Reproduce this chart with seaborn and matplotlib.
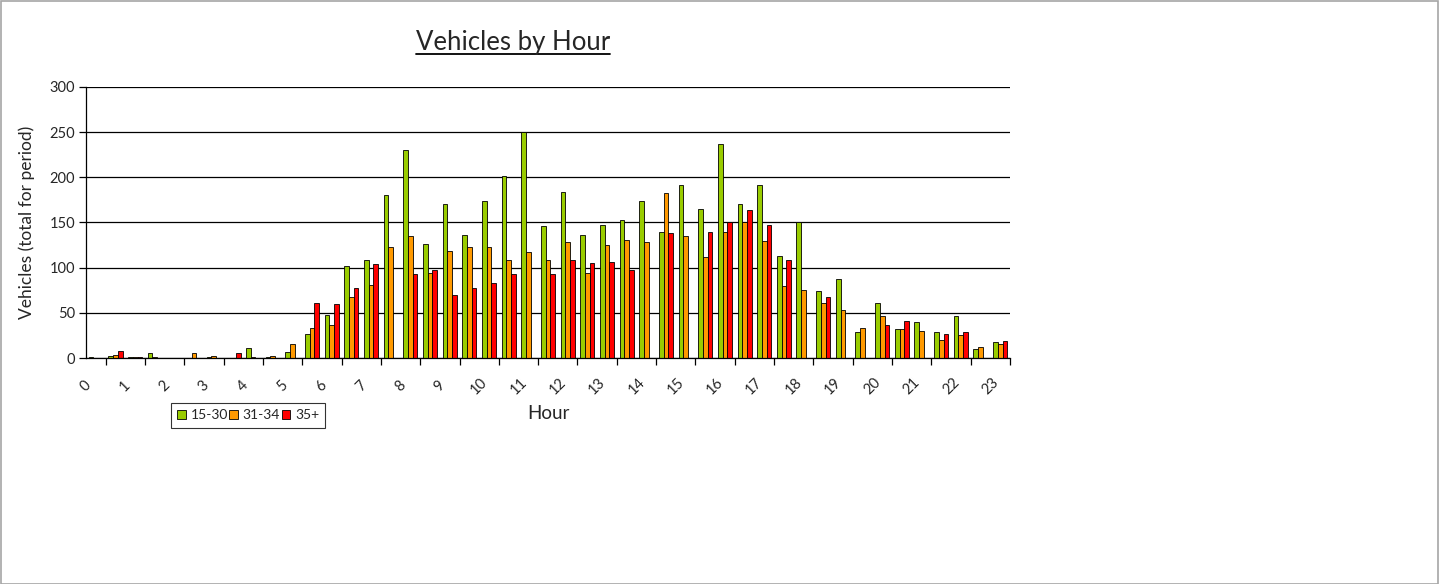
import matplotlib
matplotlib.use("Agg")
import matplotlib.pyplot as plt
import seaborn as sns
import pandas as pd
from matplotlib.lines import Line2D
from matplotlib.patches import Rectangle

# ---- data (47 half-hour slots, labelled every hour) ----
slots = [f"{h}:{m:02d}" for h in range(24) for m in (0, 30)][:47]
hour_labels = [str(h) for h in range(24)]
series_names = ["15-30", "31-34", "35+"]

v_15_30 = [1, 2, 1, 5, 0, 0, 1, 0, 11, 1, 7, 27, 48, 102, 109, 180,
           230, 126, 171, 136, 174, 202, 250, 146, 184, 136, 147, 153, 174, 140,
           191, 165, 237, 171, 192, 113, 150, 74, 88, 29, 61, 32, 40, 29, 47, 10, 18]
v_31_34 = [0, 3, 1, 1, 0, 5, 2, 0, 1, 2, 15, 33, 36, 67, 81, 123,
           135, 94, 118, 123, 123, 109, 117, 108, 128, 94, 125, 131, 128, 183,
           135, 112, 139, 150, 130, 80, 75, 61, 53, 33, 47, 32, 30, 20, 26, 12, 15]
v_35p = [0, 8, 1, 0, 0, 0, 0, 5, 0, 0, 0, 61, 60, 78, 104, 0,
         93, 97, 70, 78, 83, 93, 0, 93, 108, 105, 106, 97, 0, 138,
         0, 139, 150, 164, 147, 109, 0, 68, 0, 0, 37, 41, 0, 27, 29, 0, 19]

colors = ["#99CC00", "#FF9900", "#FF0000"]

df = pd.DataFrame({
    "slot": slots * 3,
    "series": sum([[s] * len(slots) for s in series_names], []),
    "value": v_15_30 + v_31_34 + v_35p,
})

sns.set_style("white")
plt.rcParams["font.family"] = ["Lato", "DejaVu Sans"]

W, H = 1439, 584
fig = plt.figure(figsize=(W / 100, H / 100), dpi=100)
ax = fig.add_axes([86 / W, 1 - 358 / H, (1010 - 86) / W, (358 - 87) / H])

sns.barplot(data=df, x="slot", y="value", hue="series", order=slots,
            hue_order=series_names, palette=colors, saturation=1, width=0.72,
            edgecolor="black", linewidth=0.6, ax=ax, legend=True)

ax.set_ylim(0, 300)
ax.set_xlim(-0.5, len(slots) - 0.5)
ax.set_yticks(range(0, 301, 50))
ax.yaxis.grid(True, color="black", linewidth=0.9)
ax.set_axisbelow(True)
for s in ["top", "right"]:
    ax.spines[s].set_visible(False)
for s in ["left", "bottom"]:
    ax.spines[s].set_color("black")
    ax.spines[s].set_linewidth(0.9)

ax.tick_params(axis="y", which="major", direction="out", length=5, width=0.9,
               color="black", labelsize=10.5, pad=3, left=True)
ax.set_xticks([i - 0.5 for i in range(0, len(slots), 2)])
ax.set_xticklabels(hour_labels, rotation=45, ha="center", va="center")
ax.set_xticks([i - 0.5 for i in range(len(slots) + 1)], minor=True)
ax.tick_params(axis="x", which="major", length=0, labelsize=10.5, pad=20)
ax.tick_params(axis="x", which="minor", direction="out", length=5, width=0.9,
               color="black", bottom=True)

ax.set_xlabel("Hour", fontsize=13.5)
ax.xaxis.set_label_coords(0.5, (358 - 405) / 271)
ax.set_ylabel("Vehicles (total for period)", fontsize=12.5, labelpad=10)

handles, labels = ax.get_legend_handles_labels()
ax.legend(handles, labels, ncol=3, loc="upper left",
          bbox_to_anchor=(171 / W, 1 - 403 / H), bbox_transform=fig.transFigure,
          frameon=True, fancybox=False, edgecolor="black", fontsize=10,
          handlelength=0.6, handleheight=0.6, handletextpad=0.35,
          columnspacing=0.12, borderpad=0.45, borderaxespad=0)
leg = ax.get_legend()
leg.get_frame().set_linewidth(0.8)

title = fig.text(513 / W, 1 - 50 / H, "Vehicles by Hour", ha="center",
                 va="baseline", fontsize=18.5)

# underline title
fig.canvas.draw()
bb = title.get_window_extent()
uy = 1 - 54 / H
fig.add_artist(Line2D([bb.x0 / W, bb.x1 / W], [uy, uy],
                      transform=fig.transFigure, color="black", linewidth=1.3))

# chart border
fig.add_artist(Rectangle((0.5 / W, 0.5 / H), 1 - 1.5 / W, 1 - 1.5 / H,
                         transform=fig.transFigure, fill=False,
                         edgecolor="#a6a6a6", linewidth=1.2))

fig.savefig("out.png", dpi=100)
